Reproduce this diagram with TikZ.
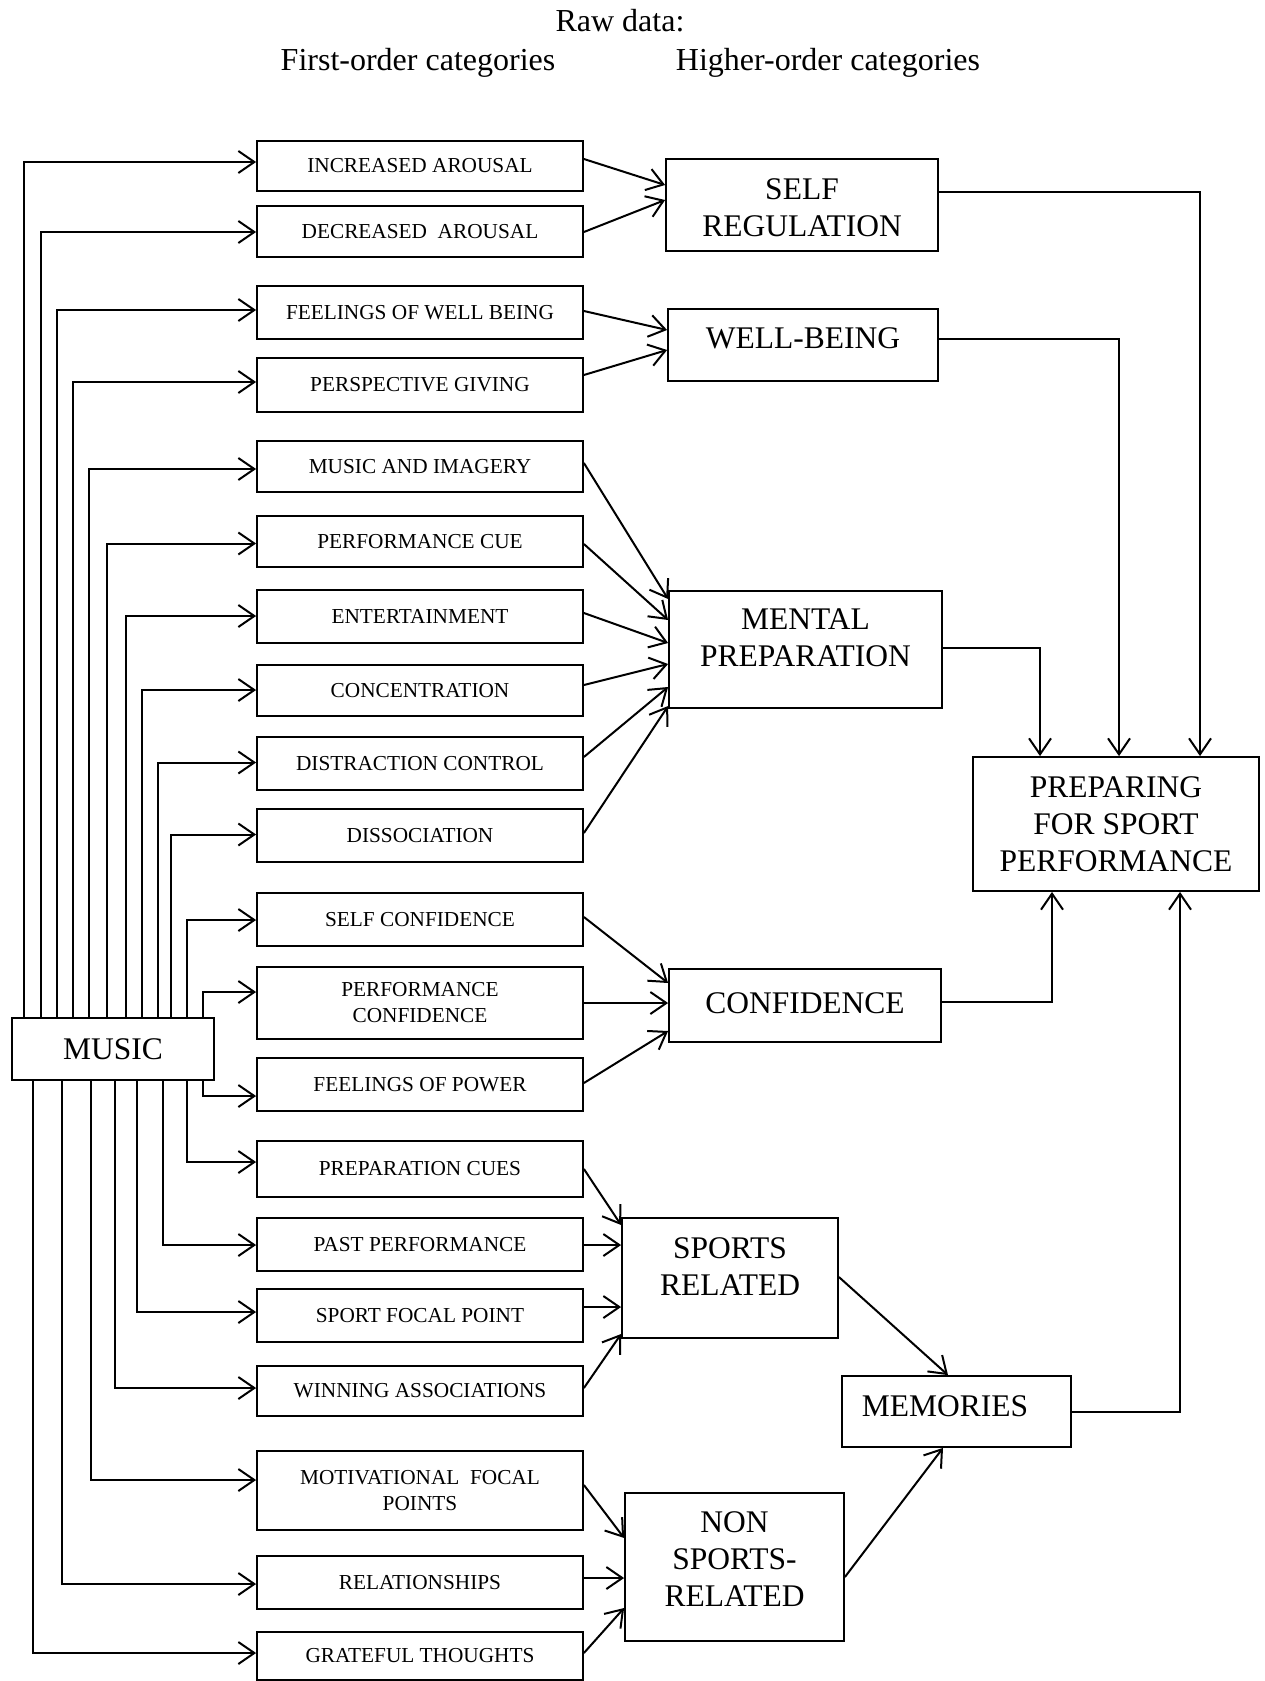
\documentclass[tikz,border=0pt]{standalone}
\usepackage{fontspec}
\setmainfont{Liberation Serif}
\usetikzlibrary{arrows.meta}

\tikzset{
  fobox/.style={draw, line width=1.8pt, minimum width=326pt, inner sep=0pt, align=center,
    font=\fontsize{21.3pt}{26pt}\selectfont},
  hibox/.style={draw, line width=1.8pt, inner sep=0pt},
  hitext/.style={align=center, inner sep=0pt, font=\fontsize{31.5pt}{37pt}\selectfont},
  heading/.style={anchor=base, inner sep=0pt, font=\fontsize{32pt}{38pt}\selectfont},
  link/.style={line width=2pt, ->},
}

\begin{document}
\begin{tikzpicture}[x=1pt, y=-1pt, >={Straight Barb[length=16pt,width=22pt]}]
  \useasboundingbox (0,0) rectangle (1264,1681);

  % headings
  \node[heading] (rawdata) at (620,31) {Raw data:};
  \node[heading] (firstorder) at (418,70) {First-order categories};
  \node[heading] (higherorder) at (828,70) {Higher-order categories};

  % source
  \node[hibox, minimum width=202pt, minimum height=62pt, hitext] (music) at (113,1049) {MUSIC};

  % first-order categories
  \node[fobox, minimum height=50pt] (inc) at (420,166) {INCREASED AROUSAL};
  \node[fobox, minimum height=51pt] (dec) at (420,231.5) {DECREASED\ \ AROUSAL};
  \node[fobox, minimum height=53pt] (fwb) at (420,312.5) {FEELINGS OF WELL BEING};
  \node[fobox, minimum height=54pt] (persp) at (420,385) {PERSPECTIVE GIVING};
  \node[fobox, minimum height=51pt] (imagery) at (420,466.5) {MUSIC AND IMAGERY};
  \node[fobox, minimum height=51pt] (perfcue) at (420,541.5) {PERFORMANCE CUE};
  \node[fobox, minimum height=53pt] (entert) at (420,616.5) {ENTERTAINMENT};
  \node[fobox, minimum height=51pt] (concen) at (420,690.5) {CONCENTRATION};
  \node[fobox, minimum height=53pt] (distract) at (420,763.5) {DISTRACTION CONTROL};
  \node[fobox, minimum height=53pt] (dissoc) at (420,835.5) {DISSOCIATION};
  \node[fobox, minimum height=53pt] (selfconf) at (420,919.5) {SELF CONFIDENCE};
  \node[fobox, minimum height=72pt] (perfconf) at (420,1003) {PERFORMANCE\\CONFIDENCE};
  \node[fobox, minimum height=53pt] (power) at (420,1084.5) {FEELINGS OF POWER};
  \node[fobox, minimum height=56pt] (prepcues) at (420,1169) {PREPARATION CUES};
  \node[fobox, minimum height=53pt] (pastperf) at (420,1244.5) {PAST PERFORMANCE};
  \node[fobox, minimum height=53pt] (focal) at (420,1315.5) {SPORT FOCAL POINT};
  \node[fobox, minimum height=50pt] (winning) at (420,1391) {WINNING ASSOCIATIONS};
  \node[fobox, minimum height=79pt] (motiv) at (420,1490.5) {MOTIVATIONAL\ \ FOCAL\\POINTS};
  \node[fobox, minimum height=53pt] (relation) at (420,1582.5) {RELATIONSHIPS};
  \node[fobox, minimum height=48pt] (grateful) at (420,1656) {GRATEFUL THOUGHTS};

  % higher-order categories
  \node[hibox, minimum width=272pt, minimum height=92pt] (selfreg) at (802,205) {};
  \node[hitext] (selfreg-t) at (802,207.5) {SELF\\REGULATION};
  \node[hibox, minimum width=270pt, minimum height=72pt] (well) at (803,345) {};
  \node[hitext] (well-t) at (803,338) {WELL-BEING};
  \node[hibox, minimum width=273pt, minimum height=117pt] (mental) at (805.5,649.5) {};
  \node[hitext] (mental-t) at (805.5,638) {MENTAL\\PREPARATION};
  \node[hibox, minimum width=272pt, minimum height=73pt] (conf) at (805,1005.5) {};
  \node[hitext] (conf-t) at (805,1003) {CONFIDENCE};
  \node[hibox, minimum width=286pt, minimum height=134pt] (prep) at (1116,824) {};
  \node[hitext] (prep-t) at (1116,824) {PREPARING\\FOR SPORT\\PERFORMANCE};
  \node[hibox, minimum width=216pt, minimum height=120pt] (sports) at (730,1278) {};
  \node[hitext] (sports-t) at (730,1266.5) {SPORTS\\RELATED};
  \node[hibox, minimum width=229pt, minimum height=71pt] (mem) at (956.5,1411.5) {};
  \node[hitext] (mem-t) at (945,1406) {MEMORIES};
  \node[hibox, minimum width=219pt, minimum height=148pt] (non) at (734.5,1567) {};
  \node[hitext] (non-t) at (734.5,1559) {NON\\SPORTS-\\RELATED};

  % music to first-order, upwards
  \draw[link] (music.north -| 24,0) |- (inc.west |- 0,162);
  \draw[link] (music.north -| 41,0) |- (dec.west |- 0,232);
  \draw[link] (music.north -| 57,0) |- (fwb.west |- 0,310);
  \draw[link] (music.north -| 73,0) |- (persp.west |- 0,382);
  \draw[link] (music.north -| 89,0) |- (imagery.west |- 0,469);
  \draw[link] (music.north -| 107,0) |- (perfcue.west |- 0,543.5);
  \draw[link] (music.north -| 126,0) |- (entert.west |- 0,616);
  \draw[link] (music.north -| 142,0) |- (concen.west |- 0,690);
  \draw[link] (music.north -| 158,0) |- (distract.west |- 0,762.5);
  \draw[link] (music.north -| 171,0) |- (dissoc.west |- 0,834.5);
  \draw[link] (music.north -| 187,0) |- (selfconf.west |- 0,920);
  \draw[link] (music.north -| 203,0) |- (perfconf.west |- 0,992);
  % music to first-order, downwards
  \draw[link] (music.south -| 203,0) |- (power.west |- 0,1096);
  \draw[link] (music.south -| 187,0) |- (prepcues.west |- 0,1162);
  \draw[link] (music.south -| 163,0) |- (pastperf.west |- 0,1245);
  \draw[link] (music.south -| 137,0) |- (focal.west |- 0,1312);
  \draw[link] (music.south -| 115,0) |- (winning.west |- 0,1388);
  \draw[link] (music.south -| 91,0) |- (motiv.west |- 0,1480);
  \draw[link] (music.south -| 62,0) |- (relation.west |- 0,1584);
  \draw[link] (music.south -| 33,0) |- (grateful.west |- 0,1653);

  % first-order to higher-order
  \draw[link] (inc.east |- 0,159) -- (selfreg.west |- 0,185);
  \draw[link] (dec.east |- 0,232) -- (selfreg.west |- 0,200);
  \draw[link] (fwb.east |- 0,311) -- (well.west |- 0,330);
  \draw[link] (persp.east |- 0,375) -- (well.west |- 0,350);
  \draw[link] (imagery.east |- 0,463) -- (mental.west |- 0,599);
  \draw[link] (perfcue.east |- 0,544) -- (mental.west |- 0,620);
  \draw[link] (entert.east |- 0,613) -- (mental.west |- 0,643);
  \draw[link] (concen.east |- 0,685) -- (mental.west |- 0,664);
  \draw[link] (distract.east |- 0,757) -- (mental.west |- 0,687);
  \draw[link] (dissoc.east |- 0,833) -- (mental.west |- 0,706);
  \draw[link] (selfconf.east |- 0,917) -- (conf.west |- 0,983);
  \draw[link] (perfconf.east) -- (conf.west |- 0,1003);
  \draw[link] (power.east |- 0,1083) -- (conf.west |- 0,1031);
  \draw[link] (prepcues.east |- 0,1169) -- (sports.west |- 0,1225);
  \draw[link] (pastperf.east |- 0,1245) -- (sports.west |- 0,1245);
  \draw[link] (focal.east |- 0,1307) -- (sports.west |- 0,1307);
  \draw[link] (winning.east |- 0,1388) -- (sports.west |- 0,1334);
  \draw[link] (motiv.east |- 0,1485) -- (non.west |- 0,1538);
  \draw[link] (relation.east |- 0,1578) -- (non.west |- 0,1578);
  \draw[link] (grateful.east |- 0,1653) -- (non.west |- 0,1608);

  % higher-order to outcome
  \draw[link] (selfreg.east |- 0,192) -| (prep.north -| 1200,0);
  \draw[link] (well.east |- 0,339) -| (prep.north -| 1119,0);
  \draw[link] (mental.east |- 0,648) -| (prep.north -| 1040,0);
  \draw[link] (conf.east |- 0,1002) -| (prep.south -| 1052,0);
  \draw[link] (mem.east) -| (prep.south -| 1180,0);
  \draw[link] (sports.east |- 0,1277) -- (mem.north -| 948,0);
  \draw[link] (non.east |- 0,1577) -- (mem.south -| 943,0);
\end{tikzpicture}
\end{document}
